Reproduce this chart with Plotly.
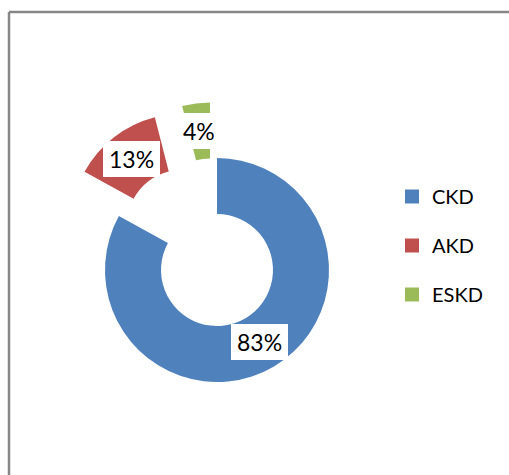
import math
import plotly.graph_objects as go

# ---- data ----
labels = ["CKD", "AKD", "ESKD"]
values = [83, 13, 4]
colors = ["#4F81BD", "#C0504D", "#9BBB59"]
pulls = [0, 0.5, 0.5]

# ---- layout geometry ----
W, H = 509, 475
HOLE = 0.5
CX, CY = 217, 270          # pie centre in pixels
MAXPULL = max(pulls)
R = 112                    # outer radius in pixels
BOX = R * (2 + 2 * MAXPULL)
dom_x = [(CX - BOX / 2) / W, (CX + BOX / 2) / W]
dom_y = [1 - (CY + BOX / 2) / H, 1 - (CY - BOX / 2) / H]
FONT = "Lato"

fig = go.Figure()
fig.add_trace(go.Pie(
    labels=labels, values=values, hole=HOLE, pull=pulls,
    sort=False, direction="clockwise", rotation=0,
    marker=dict(colors=colors, line=dict(width=0)),
    textinfo="none", showlegend=False, hoverinfo="label+percent",
    domain=dict(x=dom_x, y=dom_y),
))

# legend entries (one group per label so they can be spaced apart)
for lab, col in zip(labels, colors):
    fig.add_trace(go.Scatter(
        x=[None], y=[None], mode="markers", name=lab, legendgroup=lab,
        marker=dict(symbol="square", size=14, color=col),
        hoverinfo="skip",
    ))

# percentage labels in white boxes, placed at the middle of each (pulled) ring segment
total = sum(values)
cum = 0
annotations = []
for v, p in zip(values, pulls):
    mid = (cum + v / 2) / total * 2 * math.pi
    cum += v
    dist = p * R + R * (1 + HOLE) / 2
    px = CX + math.sin(mid) * dist
    py = CY - math.cos(mid) * dist
    annotations.append(dict(
        x=px / W, y=1 - py / H, xref="paper", yref="paper",
        xanchor="center", yanchor="middle",
        text=f"{round(100 * v / total)}%", showarrow=False,
        font=dict(family=FONT, size=23, color="black"),
        bgcolor="white", borderpad=6, height=24, borderwidth=0,
    ))

fig.update_layout(
    width=W, height=H,
    margin=dict(l=0, r=0, t=0, b=0),
    paper_bgcolor="white", plot_bgcolor="white",
    xaxis=dict(visible=False), yaxis=dict(visible=False),
    annotations=annotations,
    legend=dict(
        x=392 / W, y=1 - 177 / H, xanchor="left", yanchor="top",
        font=dict(family=FONT, size=20, color="black"),
        tracegroupgap=20, bgcolor="rgba(0,0,0,0)",
    ),
    shapes=[
        dict(type="line", xref="paper", yref="paper",
             x0=9 / W, x1=1, y0=1 - 12 / H, y1=1 - 12 / H,
             line=dict(color="#878787", width=2.5), layer="below"),
        dict(type="line", xref="paper", yref="paper",
             x0=9 / W, x1=9 / W, y0=0, y1=1 - 12 / H,
             line=dict(color="#878787", width=2.5), layer="below"),
    ],
)

fig.write_html("out.html", config={"displayModeBar": False},
               post_script="document.body.style.margin='0';")
